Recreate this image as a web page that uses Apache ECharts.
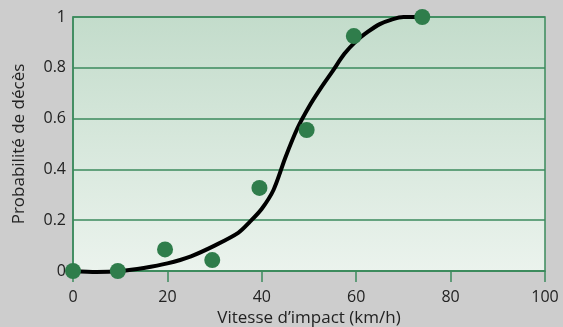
<!DOCTYPE html>
<html>
<head>
<meta charset="utf-8">
<script src="https://cdn.jsdelivr.net/npm/echarts@6/dist/echarts.min.js"></script>
<style>
  html, body { margin: 0; padding: 0; background: #cdcdcd; }
  #chart { width: 563px; height: 327px; }
</style>
</head>
<body>
<div id="chart"></div>
<script>
// observed points (speed km/h, probability)
const pointSpeeds = [0, 9.5, 19.5, 29.5, 39.5, 49.5, 59.5, 74];
const pointProbs = [0, 0, 0.085, 0.043, 0.327, 0.555, 0.925, 1];

// fitted curve
const curveSpeeds = [0, 5, 10, 15, 20, 25, 30, 35, 37.5, 40, 42.5, 45, 47.5, 50, 52.5, 55, 57.5, 60, 62.5, 65, 67.5, 70, 74];
const curveProbs = [0, -0.004, 0, 0.012, 0.03, 0.058, 0.1, 0.15, 0.194, 0.245, 0.32, 0.447, 0.56, 0.647, 0.72, 0.787, 0.855, 0.905, 0.942, 0.972, 0.99, 1.0, 1.0];

const xTicks = [0, 100, 20];   // min, max, step
const yTicks = [0, 1, 0.2];

const GREEN = '#2f7d4b';
const LINE_GREEN = '#3b8a5c';
const TEXT = '#222';
const FONT = 'Open Sans';

const chart = echarts.init(document.getElementById('chart'));

chart.setOption({
  backgroundColor: '#cdcdcd',
  animation: false,
  grid: {
    left: 73,
    right: 18,
    top: 17,
    bottom: 56,
    containLabel: false,
    outerBoundsMode: 'none',
    show: true,
    borderColor: LINE_GREEN,
    borderWidth: 1.5,
    backgroundColor: new echarts.graphic.LinearGradient(0, 0, 0, 1, [
      { offset: 0, color: '#c3dccb' },
      { offset: 1, color: '#ebf3ed' },
    ]),
  },
  xAxis: {
    type: 'value',
    min: xTicks[0],
    max: xTicks[1],
    interval: xTicks[2],
    name: 'Vitesse d’impact (km/h)',
    nameLocation: 'middle',
    nameGap: 37,
    nameTextStyle: { fontFamily: FONT, fontSize: 17, color: TEXT },
    axisLine: { show: true, lineStyle: { color: LINE_GREEN, width: 1.5 } },
    axisTick: { show: true, length: 11, lineStyle: { color: LINE_GREEN, width: 1.5 } },
    splitLine: { show: false },
    axisLabel: { fontFamily: FONT, fontSize: 16, color: TEXT, margin: 18 },
  },
  yAxis: {
    type: 'value',
    min: yTicks[0],
    max: yTicks[1],
    interval: yTicks[2],
    name: 'Probabilité de décès',
    nameLocation: 'middle',
    nameGap: 45,
    nameTextStyle: { fontFamily: FONT, fontSize: 17, color: TEXT },
    axisLine: { show: true, lineStyle: { color: LINE_GREEN, width: 1.5 } },
    axisTick: { show: false },
    splitLine: { show: true, lineStyle: { color: LINE_GREEN, width: 1.5 } },
    axisLabel: { fontFamily: FONT, fontSize: 16, color: TEXT, margin: 7 },
  },
  series: [
    {
      type: 'line',
      data: curveSpeeds.map((x, i) => [x, curveProbs[i]]),
      smooth: 0.3,
      showSymbol: false,
      clip: false,
      lineStyle: { color: '#000', width: 4 },
      z: 2,
    },
    {
      type: 'scatter',
      data: pointSpeeds.map((x, i) => [x, pointProbs[i]]),
      symbolSize: 16,
      clip: false,
      itemStyle: { color: GREEN, opacity: 1 },
      z: 3,
    },
  ],
});
</script>
</body>
</html>
